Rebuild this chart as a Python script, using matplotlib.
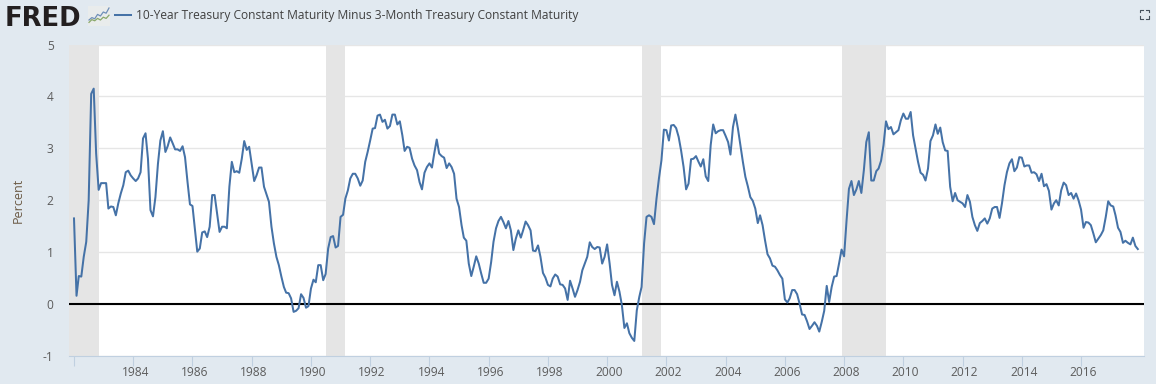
import matplotlib
matplotlib.use('Agg')
import matplotlib.pyplot as plt
import matplotlib.dates as mdates
from matplotlib.transforms import ScaledTranslation
import pandas as pd

spread = [
    1.65, 0.16, 0.54, 0.53, 0.91, 1.2, 2.0, 4.05, 4.15, 2.9, 2.2, 2.33,
    2.33, 2.33, 1.84, 1.88, 1.87, 1.71, 1.94, 2.13, 2.29, 2.54, 2.57, 2.48,
    2.42, 2.37, 2.42, 2.54, 3.19, 3.29, 2.8, 1.81, 1.69, 2.06, 2.7, 3.15,
    3.33, 2.93, 3.04, 3.21, 3.1, 2.98, 2.98, 2.95, 3.04, 2.83, 2.35, 1.92,
    1.89, 1.42, 1.01, 1.07, 1.38, 1.4, 1.29, 1.49, 2.1, 2.1, 1.74, 1.39,
    1.49, 1.49, 1.46, 2.26, 2.74, 2.54, 2.56, 2.53, 2.8, 3.14, 2.97, 3.03,
    2.7, 2.37, 2.48, 2.63, 2.63, 2.26, 2.12, 1.97, 1.49, 1.17, 0.91, 0.75,
    0.53, 0.33, 0.22, 0.21, 0.11, -0.15, -0.13, -0.08, 0.19, 0.12, -0.07, -0.04,
    0.3, 0.47, 0.42, 0.75, 0.75, 0.46, 0.58, 1.07, 1.29, 1.31, 1.09, 1.12,
    1.68, 1.72, 2.03, 2.19, 2.42, 2.51, 2.51, 2.42,
    2.28, 2.38, 2.74, 2.93, 3.15, 3.38, 3.39, 3.63, 3.65, 3.51, 3.55, 3.38,
    3.43, 3.65, 3.65, 3.46, 3.52, 3.25, 2.95, 3.03, 3.01, 2.8, 2.67, 2.58,
    2.35, 2.21, 2.53, 2.64, 2.71, 2.63, 2.9, 3.17, 2.9, 2.85, 2.82, 2.62,
    2.71, 2.64, 2.51, 2.03, 1.87, 1.52, 1.28, 1.22, 0.78, 0.54, 0.72, 0.92,
    0.78, 0.59, 0.41, 0.41, 0.49, 0.81, 1.2, 1.46, 1.6, 1.68, 1.58, 1.46,
    1.6, 1.42, 1.04, 1.26, 1.42, 1.28, 1.42, 1.59, 1.52, 1.42, 1.03, 1.02,
    1.13, 0.91, 0.6, 0.51, 0.37, 0.34, 0.49, 0.57, 0.53, 0.38, 0.37, 0.3,
    0.08, 0.45, 0.3, 0.14, 0.27, 0.43, 0.65, 0.78, 0.91, 1.19, 1.1, 1.06,
    1.1, 1.09, 0.78, 0.91, 1.15, 0.78, 0.37, 0.17, 0.43, 0.24, -0.02, -0.46,
    -0.37, -0.56, -0.65, -0.71, -0.12, 0.14, 0.33, 1.17, 1.68, 1.71,
    1.68, 1.54, 2.03, 2.42, 2.77, 3.36, 3.35, 3.15, 3.44, 3.45, 3.39, 3.22,
    2.96, 2.64, 2.21, 2.32, 2.79, 2.8, 2.85, 2.74, 2.65, 2.79, 2.46, 2.37,
    3.06, 3.46, 3.29, 3.33, 3.35, 3.35, 3.24, 3.12, 2.88, 3.41, 3.65, 3.38,
    3.06, 2.74, 2.45, 2.27, 2.06, 1.99, 1.84, 1.56, 1.71, 1.52, 1.23, 0.96,
    0.88, 0.74, 0.72, 0.65, 0.56, 0.49, 0.09, 0.03, 0.11, 0.27, 0.27, 0.19,
    0.01, -0.2, -0.21, -0.33, -0.48, -0.42, -0.35, -0.42, -0.53, -0.34, -0.13, 0.35,
    0.04, 0.33, 0.53, 0.54, 0.79, 1.05, 0.92, 1.62, 2.22, 2.37, 2.1, 2.21,
    2.37, 2.14, 2.58, 3.12, 3.31, 2.38, 2.38, 2.56, 2.61, 2.76, 3.06, 3.52,
    3.37, 3.41, 3.27, 3.31, 3.35, 3.54, 3.67, 3.57, 3.57, 3.7, 3.25, 2.99,
    2.74, 2.53, 2.49, 2.38, 2.61, 3.14, 3.25, 3.46, 3.28, 3.4, 3.12, 2.96,
    2.95, 2.26, 1.98, 2.14, 2.0, 1.97, 1.94, 1.87, 2.1, 1.97, 1.68, 1.52,
    1.41, 1.56, 1.6, 1.65, 1.55, 1.65, 1.84, 1.87, 1.87, 1.66, 1.94, 2.29,
    2.54, 2.71, 2.79, 2.56, 2.63, 2.83, 2.82, 2.65, 2.67, 2.67, 2.53, 2.54,
    2.5, 2.37, 2.51, 2.27, 2.31, 2.18, 1.82, 1.94, 2.0, 1.9, 2.19, 2.34,
    2.29, 2.1, 2.14, 2.03, 2.13, 2.0, 1.82, 1.47, 1.58, 1.57, 1.52, 1.36,
    1.19, 1.26, 1.33, 1.42, 1.68, 1.98, 1.9, 1.88, 1.71, 1.47, 1.39, 1.18,
    1.22, 1.18, 1.15, 1.28, 1.12, 1.06,
]
recessions = [('1981-07-01', '1982-11-01'), ('1990-07-01', '1991-03-01'),
              ('2001-03-01', '2001-11-01'), ('2007-12-01', '2009-06-01')]
tick_years = list(range(1982, 2018, 2))
y_ticks = [-1, 0, 1, 2, 3, 4, 5]
series_name = '10-Year Treasury Constant Maturity Minus 3-Month Treasury Constant Maturity'
logo_a = [1, 1.6, 1.3, 2.4, 2.0, 3.0, 2.7, 4]
logo_b = [0.4, 1.1, 0.8, 1.4, 1.0, 1.7, 1.4, 2.2]

W, H = 1156, 384
BG = '#e1e9f0'
BLUE = '#4572a7'
TXT = '#5c5c5c'
PX_YEAR = 29.62
plt.rcParams['font.family'] = ['Open Sans', 'DejaVu Sans']

dates = pd.date_range('1982-01-01', periods=len(spread), freq='MS')

fig = plt.figure(figsize=(W / 100, H / 100), dpi=100, facecolor=BG)
ax = fig.add_axes([69 / W, 1 - 356 / H, (1144 - 69) / W, (356 - 44.5) / H])

# first month sits at px 74 on the reference
start = mdates.date2num(pd.Timestamp('1982-01-01'))
ax.set_xlim(start - 5 / PX_YEAR * 365.25, start + 1070 / PX_YEAR * 365.25)
ax.set_ylim(-1, 5)

for a, b in recessions:
    ax.axvspan(pd.Timestamp(a), pd.Timestamp(b), color='#e5e5e5', lw=0, zorder=2)
ax.yaxis.grid(True, color='#e6e6e6', lw=1, zorder=1)
ax.axhline(0, color='black', lw=1.5, zorder=3)
ax.plot(dates, spread, color=BLUE, lw=1.45, zorder=4)

for s in ['top', 'right', 'left']:
    ax.spines[s].set_visible(False)
ax.spines['bottom'].set_color('#c0d0e0')
ax.spines['bottom'].set_linewidth(0.8)

ax.set_yticks(y_ticks)
ax.set_yticklabels([str(v) for v in y_ticks], fontsize=8.64, color=TXT)
ax.tick_params(axis='y', length=0, pad=11)
ax.set_xticks([pd.Timestamp(f'{y}-01-01') for y in tick_years])
ax.set_xticklabels(['' if y == 1982 else str(y) for y in tick_years], fontsize=8.64, color=TXT)
ax.tick_params(axis='x', length=7.5, width=0.8, color='#c0d0e0', pad=0)
shift = ScaledTranslation(2 / 100, 0, fig.dpi_scale_trans)
for lab in ax.get_xticklabels():
    lab.set_transform(lab.get_transform() + shift)

fig.text(18 / W, 1 - 200 / H, 'Percent', rotation=90, fontsize=9, color='#6b5a45', ha='center', va='center')

# header
fig.text(5 / W, 1 - 26.5 / H, 'FRED', family='DejaVu Sans', weight='bold', fontsize=18.6,
         color='#231f20', ha='left', va='baseline')
icon = fig.add_axes([88 / W, 1 - 26 / H, 22 / W, 20 / H], facecolor='#e9ecec')
icon.plot(logo_a, color='#6f8fb8', lw=0.9)
icon.plot(logo_b, color='#8aa86a', lw=0.9)
icon.set_ylim(-0.5, 4.5)
icon.set_xticks([])
icon.set_yticks([])
for s in icon.spines.values():
    s.set_visible(False)
fig.add_artist(plt.Line2D([115 / W, 131 / W], [1 - 15 / H] * 2, color=BLUE, lw=1.45))
fig.text(136 / W, 1 - 15.5 / H, series_name, fontsize=8.66, color='#404040', ha='left', va='center')

# fullscreen corner marks
for cx, dx in [(1140, 3), (1149, -3)]:
    for cy, dy in [(9.5, 2.5), (18.5, -2.5)]:
        fig.add_artist(plt.Line2D([(cx + dx) / W, cx / W, cx / W],
                                  [1 - cy / H, 1 - cy / H, 1 - (cy + dy) / H],
                                  color='#44505c', lw=0.8))

fig.savefig('out.png', dpi=100, facecolor=BG)
